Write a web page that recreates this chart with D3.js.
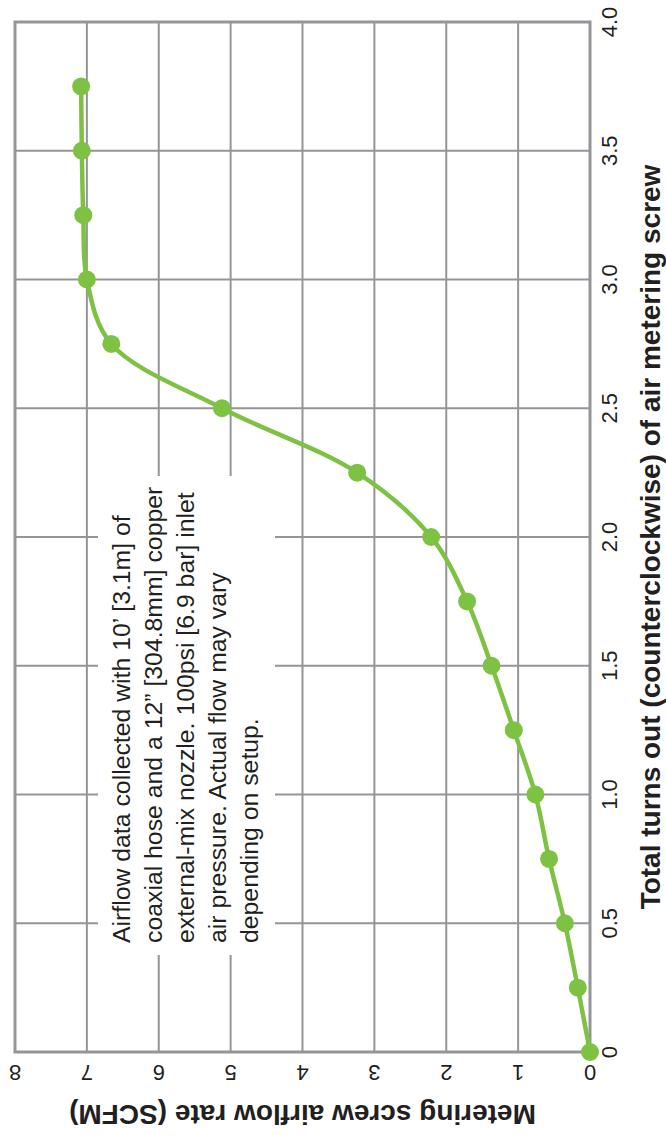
<!DOCTYPE html>
<html>
<head>
<meta charset="utf-8">
<script src="https://cdn.jsdelivr.net/npm/d3@7"></script>
<style>
  html, body { margin: 0; padding: 0; background: #fff; }
  svg { display: block; font-family: "Liberation Sans", Arial, sans-serif; }
</style>
</head>
<body>
<svg id="chart" width="666" height="1135"></svg>
<script>
// ---- data ----
const turns = [0, 0.25, 0.5, 0.75, 1.0, 1.25, 1.5, 1.75, 2.0, 2.25, 2.5, 2.75, 3.0, 3.25, 3.5, 3.75];
const scfm  = [0, 0.17, 0.35, 0.57, 0.76, 1.06, 1.37, 1.71, 2.21, 3.24, 5.12, 6.66, 7.0, 7.05, 7.07, 7.08];
const turnTicks = [0, 0.5, 1.0, 1.5, 2.0, 2.5, 3.0, 3.5, 4.0];
const turnTickLabels = ["0", "0.5", "1.0", "1.5", "2.0", "2.5", "3.0", "3.5", "4.0"];
const scfmTicks = [0, 1, 2, 3, 4, 5, 6, 7, 8];
const scfmTickLabels = ["0", "1", "2", "3", "4", "5", "6", "7", "8"];
const noteLines = [
  "Airflow data collected with 10\u2019 [3.1m] of",
  "coaxial hose and a 12\u201D [304.8mm] copper",
  "external-mix nozzle. 100psi [6.9 bar] inlet",
  "air pressure. Actual flow may vary",
  "depending on setup."
];
const turnsTitle = "Total turns out (counterclockwise) of air metering screw";
const scfmTitle = "Metering screw airflow rate (SCFM)";

// ---- layout ----
const svg = d3.select("#chart");
const gray = "#939598";
const green = "#7dc242";
const x = d3.scaleLinear().domain([0, 8]).range([590, 15]);   // SCFM, horizontal (rotated chart)
const y = d3.scaleLinear().domain([0, 4]).range([1052, 22]);  // turns, vertical

// gridlines
svg.append("g").selectAll("line.v")
  .data(scfmTicks.filter(d => d > 0 && d < 8))
  .join("line")
  .attr("x1", d => x(d)).attr("x2", d => x(d))
  .attr("y1", y(0)).attr("y2", y(4))
  .attr("stroke", gray).attr("stroke-width", 2);
svg.append("g").selectAll("line.h")
  .data(turnTicks.filter(d => d > 0 && d < 4))
  .join("line")
  .attr("x1", x(0)).attr("x2", x(8))
  .attr("y1", d => y(d)).attr("y2", d => y(d))
  .attr("stroke", gray).attr("stroke-width", 2);

// border
svg.append("rect")
  .attr("x", x(8)).attr("y", y(4))
  .attr("width", x(0) - x(8)).attr("height", y(0) - y(4))
  .attr("fill", "none").attr("stroke", gray).attr("stroke-width", 3);

// note box
svg.append("rect")
  .attr("x", 98).attr("y", 476).attr("width", 177).attr("height", 479)
  .attr("fill", "#fff");
const note = svg.append("g").attr("font-size", 24.8).attr("fill", "#231f20");
noteLines.forEach((t, i) => {
  note.append("text")
    .attr("transform", `translate(${130 + i * 32},943) rotate(-90)`)
    .attr("text-anchor", "start")
    .text(t);
});

// curve
const pts = turns.map((t, i) => [x(scfm[i]), y(t)]);
svg.append("path")
  .attr("d", d3.line().curve(d3.curveCatmullRom.alpha(0.5))(pts))
  .attr("fill", "none").attr("stroke", green).attr("stroke-width", 4.5)
  .attr("stroke-linejoin", "round");
svg.append("g").selectAll("circle")
  .data(pts).join("circle")
  .attr("cx", d => d[0]).attr("cy", d => d[1]).attr("r", 9)
  .attr("fill", green);

// turns tick labels (right side, rotated)
svg.append("g").attr("font-size", 22).attr("fill", "#231f20")
  .selectAll("text").data(turnTicks).join("text")
  .attr("transform", d => `translate(617,${y(d)}) rotate(-90)`)
  .attr("text-anchor", "middle")
  .text((d, i) => turnTickLabels[i]);

// scfm tick labels (bottom, upside-down)
svg.append("g").attr("font-size", 22).attr("fill", "#231f20")
  .selectAll("text").data(scfmTicks).join("text")
  .attr("transform", d => `translate(${x(d)},1065) rotate(180)`)
  .attr("text-anchor", "middle")
  .text((d, i) => scfmTickLabels[i]);

// axis titles
svg.append("text")
  .attr("transform", `translate(660,${(y(0) + y(4)) / 2}) rotate(-90)`)
  .attr("text-anchor", "middle").attr("font-weight", "bold").attr("font-size", 28)
  .attr("fill", "#231f20")
  .text(turnsTitle);
svg.append("text")
  .attr("transform", `translate(${(x(0) + x(8)) / 2},1105) rotate(180)`)
  .attr("text-anchor", "middle").attr("font-weight", "bold").attr("font-size", 28)
  .attr("fill", "#231f20")
  .text(scfmTitle);
</script>
</body>
</html>
